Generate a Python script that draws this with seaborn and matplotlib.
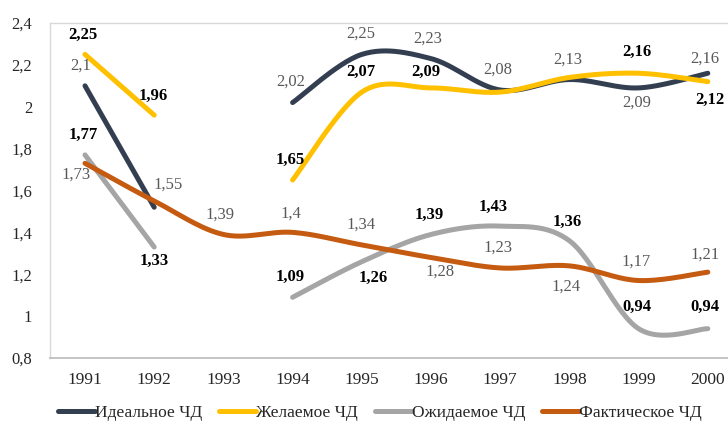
import numpy as np
import pandas as pd
import seaborn as sns
import matplotlib.pyplot as plt
from matplotlib.lines import Line2D

years = ['1991', '1992', '1993', '1994', '1995', '1996', '1997', '1998', '1999', '2000']
ideal = [2.10, 1.52, np.nan, 2.02, 2.25, 2.23, 2.08, 2.13, 2.09, 2.16]
desired = [2.25, 1.96, np.nan, 1.65, 2.07, 2.09, 2.07, 2.14, 2.16, 2.12]
expected = [1.77, 1.33, np.nan, 1.09, 1.26, 1.39, 1.43, 1.36, 0.94, 0.94]
actual = [1.73, 1.55, 1.39, 1.40, 1.34, 1.28, 1.23, 1.24, 1.17, 1.21]

names = ['Идеальное ЧД', 'Желаемое ЧД', 'Ожидаемое ЧД', 'Фактическое ЧД']
colors = ['#333F50', '#FFC000', '#A5A5A5', '#C55A11']

# label offsets in pixels (dx, dy up); None = no label shown
offsets = {
    'Идеальное ЧД': [(-4, 20), None, None, (-2, 21), (-1, 21), (-3, 20), (-2, 20), (-2, 20), (-2, -15), (-3, 15)],
    'Желаемое ЧД': [(-2, 20), (-1, 19), None, (-2, 20), (-1, 20), (-5, 16), None, None, (-2, 21), (2, -18)],
    'Ожидаемое ЧД': [(-2, 20), (0, -14), None, (-2, 20), (11, -16), (-2, 20), (-7, 19), (-2, 19), (-2, 22), (-3, 22)],
    'Фактическое ЧД': [(-9, -11), (14, 16), (-3, 20), (-2, 19), (-1, 20), (9, -14), (-2, 20), (-3, -21), (-2, 19), (-3, 18)],
}
bold = {'Идеальное ЧД': False, 'Желаемое ЧД': True, 'Ожидаемое ЧД': True, 'Фактическое ЧД': False}

df = pd.DataFrame({'year': years, names[0]: ideal, names[1]: desired,
                   names[2]: expected, names[3]: actual})


def smooth(xs, ys, n=30):
    # Excel-like smoothed line (Catmull-Rom as Bezier)
    pts = np.column_stack([xs, ys]).astype(float)
    if len(pts) < 2:
        return pts[:, 0], pts[:, 1]
    ext = np.vstack([pts[0], pts, pts[-1]])
    out = []
    t = np.linspace(0, 1, n)[:, None]
    for i in range(len(pts) - 1):
        p0, p1, p2, p3 = ext[i], ext[i + 1], ext[i + 2], ext[i + 3]
        c1 = p1 + (p2 - p0) / 6
        c2 = p2 - (p3 - p1) / 6
        seg = ((1 - t) ** 3) * p1 + 3 * ((1 - t) ** 2) * t * c1 + 3 * (1 - t) * t ** 2 * c2 + t ** 3 * p2
        out.append(seg if i == 0 else seg[1:])
    out = np.vstack(out)
    return out[:, 0], out[:, 1]


sns.set_style('white')
plt.rcParams['font.family'] = ['Liberation Serif', 'DejaVu Serif']

fig = plt.figure(figsize=(7.28, 4.21), dpi=100)
ax = fig.add_axes([50.4 / 728, 1 - 358 / 421, 692 / 728, 335 / 421])

px = 72 / 100
for name, color in zip(names, colors):
    vals = df[name].to_numpy()
    xi = np.arange(len(years))
    # split into runs of non-missing values
    ok = ~np.isnan(vals)
    runs, cur = [], []
    for i in xi:
        if ok[i]:
            cur.append(i)
        elif cur:
            runs.append(cur)
            cur = []
    if cur:
        runs.append(cur)
    for r in runs:
        sx, sy = smooth(xi[r], vals[r])
        sns.lineplot(x=sx, y=sy, ax=ax, color=color, linewidth=3.6,
                     sort=False, estimator=None, solid_capstyle='round')
    for i, v in enumerate(vals):
        off = offsets[name][i]
        if off is None or np.isnan(v):
            continue
        txt = f'{v:g}'.replace('.', ',')
        ax.annotate(txt, (i, v), xytext=(off[0] * px, off[1] * px), textcoords='offset points',
                    ha='center', va='center', fontsize=12,
                    fontweight='bold' if bold[name] else 'normal',
                    color='black' if bold[name] else '#595959')

ax.set_xlim(-0.5, 9.5)
ax.set_ylim(0.8, 2.4)
yt = np.round(np.arange(0.8, 2.41, 0.2), 1)
ax.set_yticks(yt)
ax.set_yticklabels([f'{v:g}'.replace('.', ',') for v in yt])
ax.set_xticks(range(len(years)))
ax.set_xticklabels(years)
ax.tick_params(axis='y', length=0, pad=13, labelsize=12)
ax.tick_params(axis='x', length=0, pad=10, labelsize=12.5)
ax.set_xlabel('')
ax.set_ylabel('')

for s in ['left', 'top']:
    ax.spines[s].set_color('#D9D9D9')
    ax.spines[s].set_linewidth(1)
ax.spines['bottom'].set_color('#BFBFBF')
ax.spines['bottom'].set_linewidth(1.3)
ax.spines['right'].set_visible(False)

handles = [Line2D([], [], color=c, linewidth=3.6, solid_capstyle='round') for c in colors]
fig.legend(handles, names, loc='center', bbox_to_anchor=(380 / 728, 1 - 413 / 421), ncol=4,
           frameon=False, handlelength=2.1, handletextpad=0.0, columnspacing=1.0, fontsize=12.5)

fig.savefig('out.png', dpi=100)
